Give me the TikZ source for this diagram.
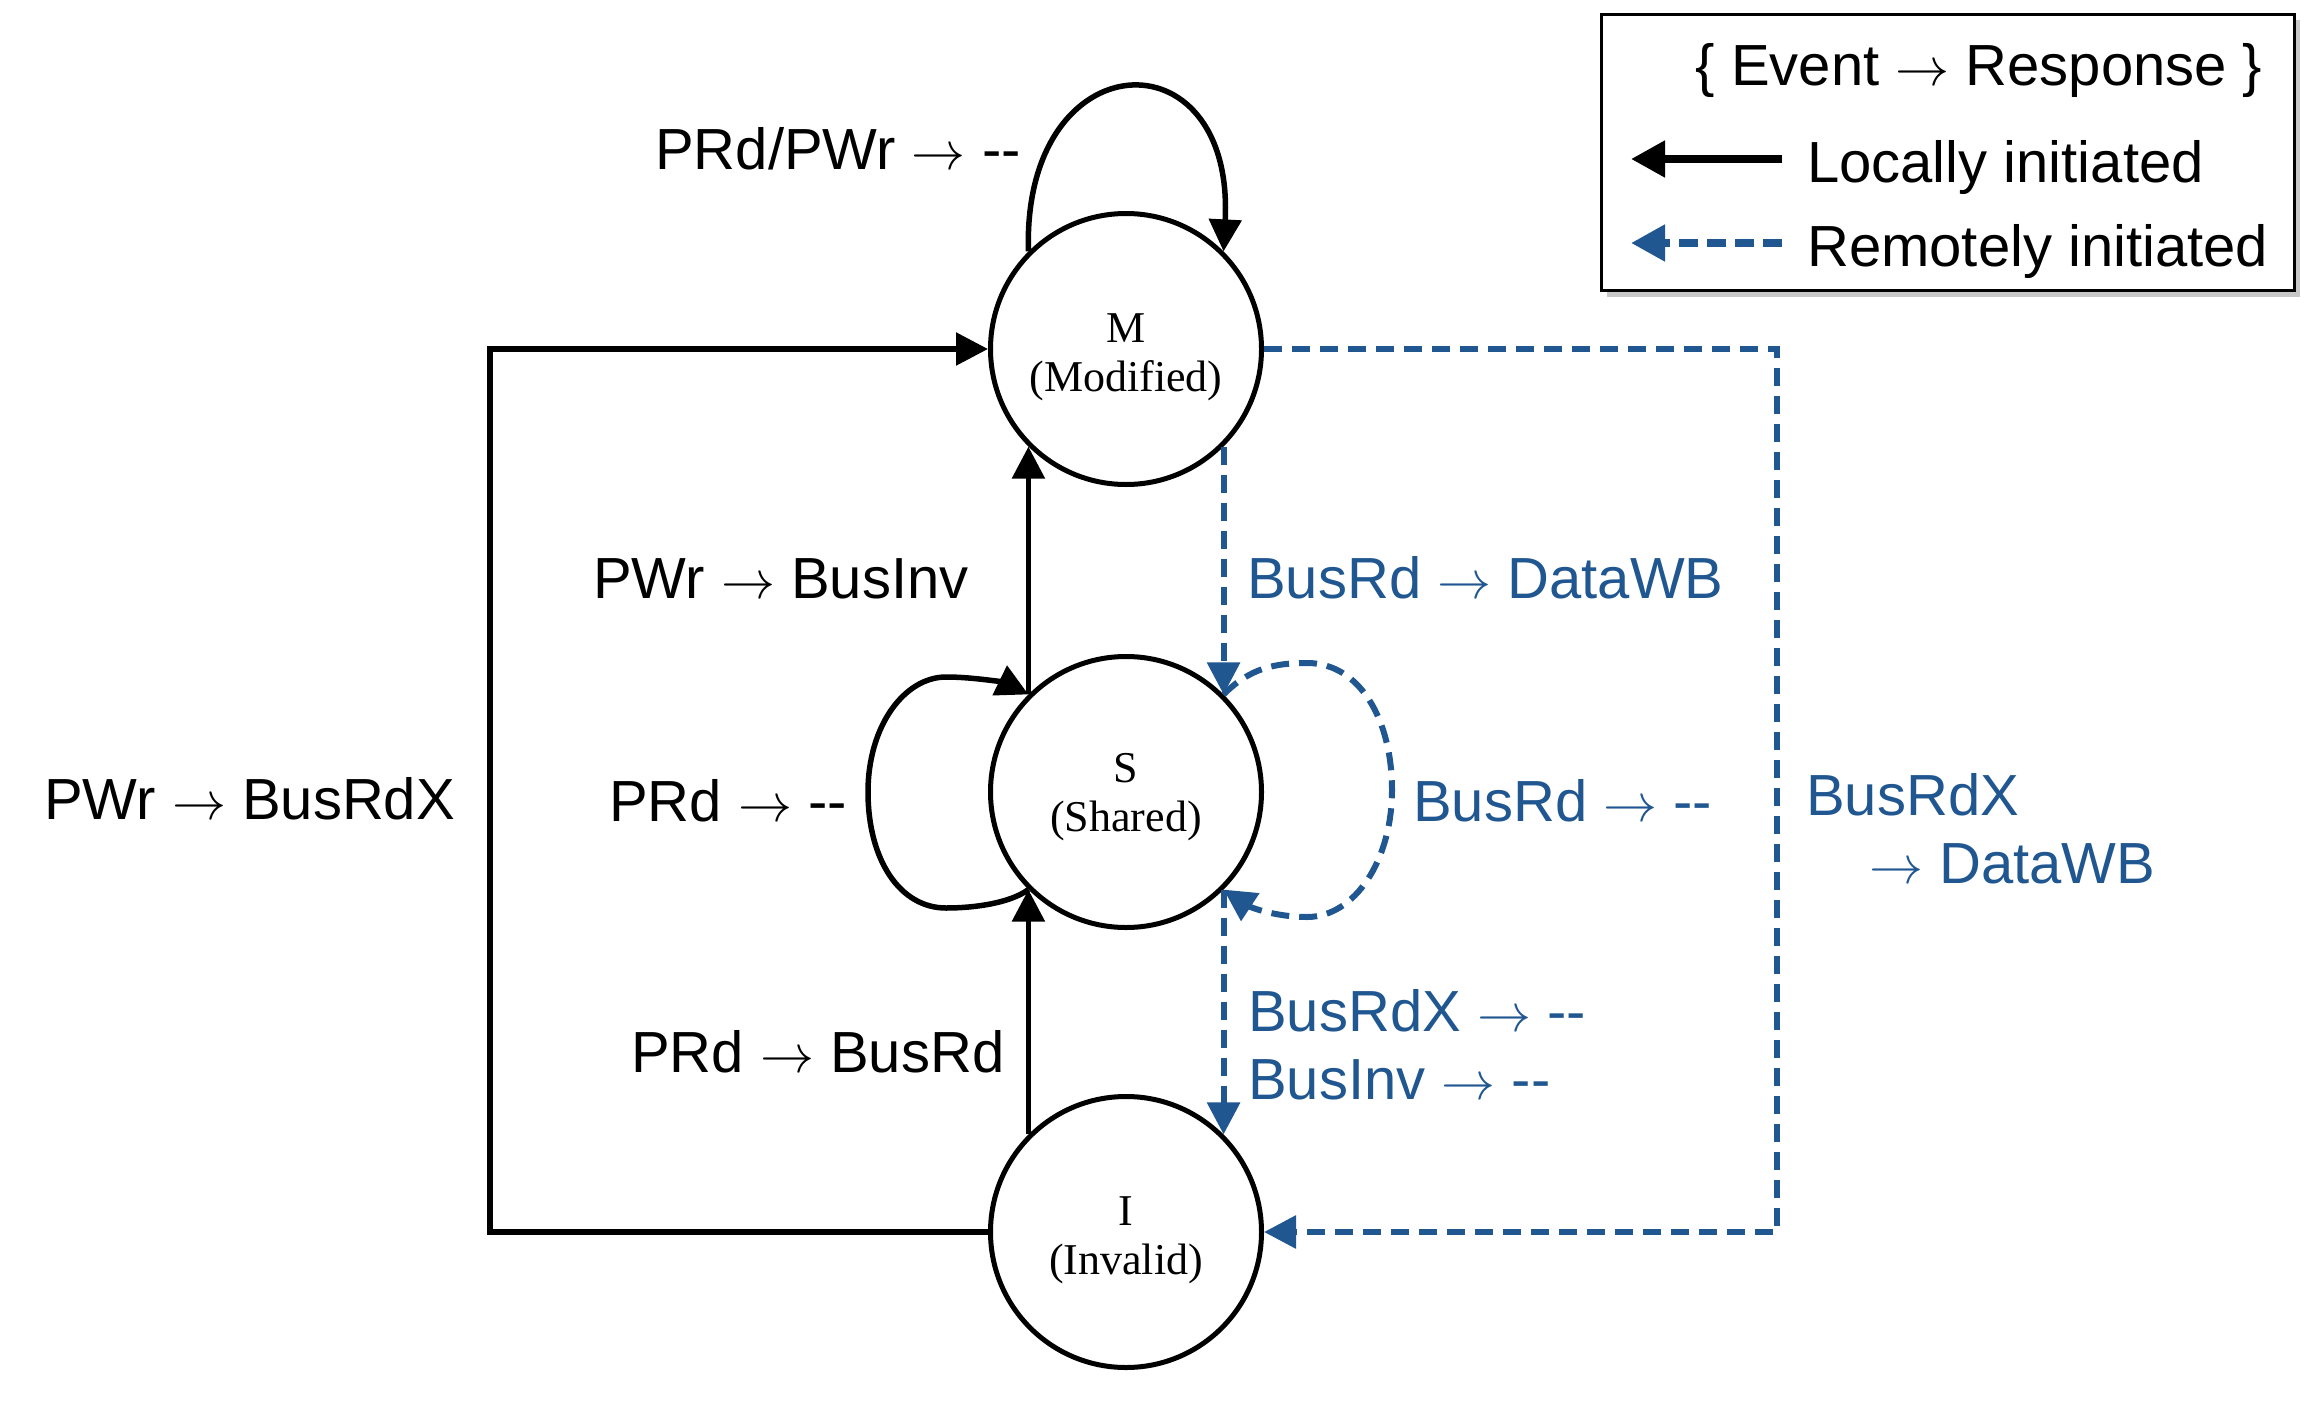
\documentclass[tikz,border=0pt]{standalone}
\usepackage{graphicx}
\usepackage{fontspec}
\setmainfont{Liberation Serif}
\setsansfont{Liberation Sans}
\usetikzlibrary{arrows.meta}
\definecolor{bblue}{RGB}{33,87,145}
\newcommand\dashdash{-\kern0pt-}
\newcommand\arr{\scalebox{5.4}{\fontsize{10}{12}\selectfont$\rightarrow$}}
\begin{document}
\begin{tikzpicture}[x=1pt,y=-1pt,
  state/.style={circle,draw=black,line width=5pt,minimum size=271pt,inner sep=0pt,fill=white},
  stxt/.style={font=\fontsize{44}{49}\selectfont\rmfamily,align=center,inner sep=0pt},
  tip/.style={-{Triangle[length=32pt,width=32pt]}},
  blk/.style={draw=black,line width=5.5pt,tip},
  blu/.style={draw=bblue,line width=6pt,dash pattern=on 18pt off 10pt,tip},
  lbl/.style={font=\fontsize{58}{68}\selectfont\sffamily,inner sep=0pt,text height=41.5pt,text depth=0pt,anchor=west},
  bl/.style={lbl,text=bblue}
]
\useasboundingbox (0,0) rectangle (2308,1408);

% legend
\fill[black!22] (1607,20) rectangle (2300,297);
\node[draw=black,line width=3pt,fill=white,minimum width=693pt,minimum height=276pt,inner sep=0pt] (leg) at (1948,152) {};
\node[lbl,anchor=center] (legt) at (1979,65) {\{ Event \arr{} Response \}};
\node[lbl] (legl) at (1807,162) {Locally initiated};
\node[lbl] (legr) at (1807,246) {Remotely initiated};
\coordinate (la1) at (1782,159);
\coordinate (la2) at (1631,159);
\coordinate (lb1) at (1782,243);
\coordinate (lb2) at (1631,243);
\draw[draw=black,line width=8pt,-{Triangle[length=34pt,width=35pt]}] (la1) -- (la2);
\draw[draw=bblue,line width=8pt,dash pattern=on 19pt off 9pt,-{Triangle[length=34pt,width=35pt]}] (lb1) -- (lb2);

% states
\node[state] (M) at (1126,349) {};
\node[state] (S) at (1126,792) {};
\node[state] (I) at (1126,1232) {};
\node[stxt] (Mt) at ([yshift=-8pt]M.center) {M\\(Modified)};
\node[stxt] (St) at ([yshift=-5pt]S.center) {S\\(Shared)};
\node[stxt] (It) at ([yshift=-8pt]I.center) {I\\(Invalid)};

% locally initiated
\draw[blk] (M.135) .. controls (1022,40) and (1235,30) .. (M.45);
\draw[blk] (S.135) -- (M.225);
\draw[blk] (I.135) -- (S.225);
\draw[blk] (S.225) .. controls (1010,903) and (975,908) .. (946,908)
  .. controls (900,908) and (868,860) .. (868,792)
  .. controls (868,725) and (905,677) .. (946,677)
  .. controls (975,677) and (1005,683) .. (S.135);
\draw[blk] (I.west) -- ++(-498,0) |- (M.west);

% remotely initiated
\draw[blu] (M.315) -- (S.45);
\draw[blu] (S.315) -- (I.45);
\draw[blu] (S.45) .. controls (1250,668) and (1275,663) .. (1307,663)
  .. controls (1360,663) and (1392,720) .. (1392,790)
  .. controls (1392,860) and (1355,917) .. (1307,917)
  .. controls (1275,917) and (1250,907) .. (S.315);
\draw[blu] (M.east) -- ++(513,0) |- (I.east);

% labels
\node[lbl] (l1) at (655,149) {PRd/PWr \arr{} \dashdash};
\node[lbl] (l2) at (593,578) {PWr \arr{} BusInv};
\node[lbl] (l3) at (609,801) {PRd \arr{} \dashdash};
\node[lbl] (l4) at (44,799) {PWr \arr{} BusRdX};
\node[lbl] (l5) at (631,1052) {PRd \arr{} BusRd};
\node[bl] (r1) at (1247,578) {BusRd \arr{} DataWB};
\node[bl] (r2) at (1413,801) {BusRd \arr{} \dashdash};
\node[bl] (r3) at (1248,1011) {BusRdX \arr{} \dashdash};
\node[bl] (r4) at (1248,1079) {BusInv \arr{} \dashdash};
\node[bl] (r5) at (1806,795) {BusRdX};
\node[bl] (r6) at (1869,863) {\arr{} DataWB};
\end{tikzpicture}
\end{document}
